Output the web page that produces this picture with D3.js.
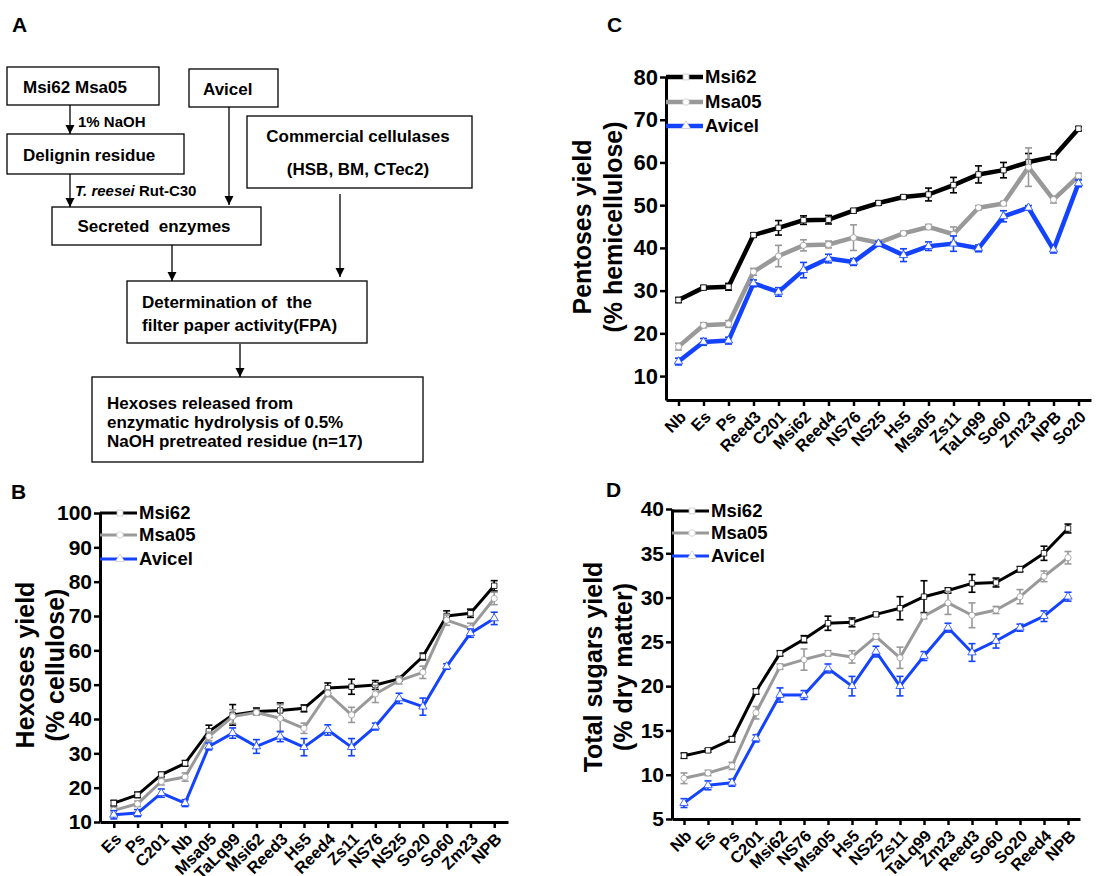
<!DOCTYPE html>
<html>
<head>
<meta charset="utf-8">
<script src="https://cdn.jsdelivr.net/npm/d3@7"></script>
<style>
  body { margin: 0; background: #fff; }
  svg { font-family: Arial, "Liberation Sans", sans-serif; font-weight: bold; }
  text { white-space: pre; }
</style>
</head>
<body>
<svg id="fig" width="1096" height="876"></svg>
<script>
const seriesNames = ["Msi62", "Msa05", "Avicel"];
const seriesColors = ["#000000", "#999999", "#1443ff"];
const seriesSymbols = [d3.symbolSquare, d3.symbolCircle, d3.symbolTriangle];

// B - hexoses yield (% cellulose)
const bCats = ["Es","Ps","C201","Nb","Msa05","TaLq99","Msi62","Reed3","Hs5","Reed4","Zs11","NS76","NS25","So20","So60","Zm23","NPB"];
const bMsi62 = [15.5,17.9,23.8,27.1,36.4,41.2,42.2,42.5,43.1,49.0,49.4,49.9,51.7,58.2,70.0,70.8,78.8];
const bMsa05 = [13.4,15.3,21.8,23.1,34.9,40.7,41.9,40.2,37.3,47.5,41.2,47.3,51.2,53.6,68.8,66.4,75.1];
const bAvicel = [12.1,12.6,18.4,15.5,32.0,35.9,32.0,34.9,31.8,36.8,31.8,37.8,46.0,43.6,55.3,65.0,69.3];
const bMsi62Err = [0.8,0.8,0.7,0.8,1.8,3.0,1.0,2.2,1.0,1.5,2.2,1.3,0.6,1.0,1.5,1.2,1.5];
const bMsa05Err = [0.8,0.8,1.0,1.2,1.3,2.0,0.8,4.0,1.5,1.0,2.2,2.5,1.0,1.8,1.5,1.5,1.8];
const bAvicelErr = [1.2,1.0,1.2,1.0,1.0,1.5,2.0,1.5,2.5,1.5,2.5,1.0,1.5,2.5,0.8,1.2,1.8];
const bTicks = [10,20,30,40,50,60,70,80,90,100];

// C - pentoses yield (% hemicellulose)
const cCats = ["Nb","Es","Ps","Reed3","C201","Msi62","Reed4","NS76","NS25","Hs5","Msa05","Zs11","TaLq99","So60","Zm23","NPB","So20"];
const cMsi62 = [27.8,30.7,30.9,43.0,44.7,46.5,46.6,48.7,50.5,51.9,52.5,54.7,57.2,58.2,60.1,61.3,67.9];
const cMsa05 = [16.9,21.9,22.2,34.4,38.1,40.6,40.8,42.4,41.2,43.4,44.9,43.2,49.4,50.4,58.9,51.3,56.8];
const cAvicel = [13.4,18.0,18.3,31.7,29.7,34.8,37.5,36.7,41.0,38.3,40.4,41.0,39.9,47.4,49.4,39.6,55.1];
const cMsi62Err = [0.6,0.5,0.8,0.5,1.7,1.0,1.0,0.5,0.5,0.5,1.5,1.8,2.0,1.8,2.0,0.7,0.5];
const cMsa05Err = [0.8,0.6,0.8,0.8,2.5,1.3,0.8,3.0,0.5,0.5,0.6,1.7,0.5,0.5,4.5,0.8,0.7];
const cAvicelErr = [0.8,0.8,0.8,0.8,1.0,1.8,1.0,0.8,0.5,1.5,1.0,1.8,0.8,1.3,0.5,0.8,0.8];
const cTicks = [10,20,30,40,50,60,70,80];

// D - total sugars yield (% dry matter)
const dCats = ["Nb","Es","Ps","C201","Msi62","NS76","Msa05","Hs5","NS25","Zs11","TaLq99","Zm23","Reed3","So60","So20","Reed4","NPB"];
const dMsi62 = [12.15,12.75,14.0,19.4,23.7,25.3,27.1,27.2,28.1,28.8,30.1,30.8,31.6,31.7,33.2,35.0,37.8];
const dMsa05 = [9.6,10.2,11.0,17.0,22.2,23.0,23.7,23.3,25.6,23.2,27.9,29.4,28.0,28.6,30.1,32.4,34.5];
const dAvicel = [6.8,8.8,9.1,14.1,19.0,19.0,22.0,20.0,23.9,20.0,23.4,26.6,23.8,25.1,26.6,27.9,30.1];
const dMsi62Err = [0.3,0.2,0.3,0.3,0.3,0.4,0.8,0.5,0.2,1.3,1.8,0.3,1.0,0.5,0.3,0.8,0.5];
const dMsa05Err = [0.6,0.3,0.4,0.7,0.3,1.2,0.3,0.7,0.3,1.2,0.3,1.3,1.4,0.4,0.8,0.6,0.7];
const dAvicelErr = [0.5,0.5,0.4,0.4,0.8,0.5,0.5,1.1,0.6,1.1,0.5,0.5,1.0,0.8,0.4,0.6,0.5];
const dTicks = [5,10,15,20,25,30,35,40];

const svg = d3.select("#fig");

// ---------- panel A : flow chart ----------
svg.append("defs").append("marker")
  .attr("id", "arrow")
  .attr("viewBox", "0 0 10 10")
  .attr("refX", 10).attr("refY", 5)
  .attr("markerWidth", 9).attr("markerHeight", 10)
  .attr("markerUnits", "userSpaceOnUse")
  .attr("orient", "auto")
  .append("path").attr("d", "M0,0 L10,5 L0,10 Z").attr("fill", "#000");

const boxes = [
  { x: 7, y: 67, w: 152, h: 38, lines: ["Msi62 Msa05"], tx: 23, ty: [87], anchor: "start" },
  { x: 189, y: 69, w: 89, h: 38, lines: ["Avicel"], tx: 203, ty: [89], anchor: "start" },
  { x: 7, y: 134, w: 177, h: 40, lines: ["Delignin residue"], tx: 23, ty: [155], anchor: "start" },
  { x: 247, y: 116, w: 225, h: 72, lines: ["Commercial cellulases", "(HSB, BM, CTec2)"], tx: 358, ty: [136, 169], anchor: "middle" },
  { x: 52, y: 207, w: 209, h: 38, lines: ["Secreted  enzymes"], tx: 154, ty: [226], anchor: "middle" },
  { x: 127, y: 281, w: 240, h: 62, lines: ["Determination of  the", "filter paper activity(FPA)"], tx: 142, ty: [302, 325], anchor: "start" },
  { x: 92, y: 377, w: 331, h: 85, lines: ["Hexoses released from", "enzymatic hydrolysis of 0.5%", "NaOH pretreated residue (n=17)"], tx: 107, ty: [403, 422, 441], anchor: "start" }
];

const gA = svg.append("g");
boxes.forEach(b => {
  gA.append("rect")
    .attr("x", b.x).attr("y", b.y).attr("width", b.w).attr("height", b.h)
    .attr("fill", "none").attr("stroke", "#000").attr("stroke-width", 1.3);
  b.lines.forEach((t, i) => {
    gA.append("text")
      .attr("x", b.tx).attr("y", b.ty[i]).attr("dy", "0.35em")
      .attr("text-anchor", b.anchor)
      .attr("font-size", 17)
      .text(t);
  });
});

const arrows = [
  [70, 105, 70, 134],
  [70, 174, 70, 207],
  [229, 107, 229, 205],
  [340, 194, 340, 277],
  [172, 245, 172, 281],
  [240, 344, 240, 377]
];
arrows.forEach(a => {
  gA.append("line")
    .attr("x1", a[0]).attr("y1", a[1]).attr("x2", a[2]).attr("y2", a[3])
    .attr("stroke", "#000").attr("stroke-width", 1.3)
    .attr("marker-end", "url(#arrow)");
});

gA.append("text").attr("x", 78).attr("y", 122).attr("dy", "0.35em")
  .attr("font-size", 15).text("1% NaOH");
const rut = gA.append("text").attr("x", 75).attr("y", 191).attr("dy", "0.35em").attr("font-size", 15);
rut.append("tspan").attr("font-style", "italic").text("T. reesei");
rut.append("tspan").text(" Rut-C30");

// panel letters
[["A", 12, 32], ["B", 11, 499], ["C", 607, 32], ["D", 606, 497]].forEach(l => {
  svg.append("text").attr("x", l[1]).attr("y", l[2]).attr("font-size", 21).text(l[0]);
});

// ---------- line panels ----------
function drawPanel(o) {
  const g = svg.append("g");
  const x = d3.scalePoint().domain(o.cats).range(o.xRange).padding(o.pad);
  const y = d3.scaleLinear().domain(o.yDomain).range(o.yRange);
  const axisY0 = o.yRange[0];

  // axes
  const xa = g.append("g")
    .attr("transform", "translate(0," + axisY0 + ")")
    .call(d3.axisBottom(x).tickSizeInner(6).tickSizeOuter(0));
  xa.select(".domain").attr("stroke-width", 3);
  xa.selectAll(".tick line").attr("stroke-width", 2.5);
  xa.selectAll(".tick text")
    .attr("x", 0).attr("y", 0).attr("dy", "0.35em")
    .attr("text-anchor", "end")
    .attr("transform", "translate(4,14) rotate(-45)")
    .attr("font-size", 16.5).attr("font-weight", "bold")
    .attr("font-family", "Arial, 'Liberation Sans', sans-serif")
    .attr("fill", "#000");

  const ya = g.append("g")
    .attr("transform", "translate(" + o.xRange[0] + ",0)")
    .call(d3.axisLeft(y).tickValues(o.ticks).tickSizeInner(6).tickSizeOuter(0));
  ya.select(".domain").attr("stroke-width", 3);
  ya.selectAll(".tick line").attr("stroke-width", 2.5);
  ya.selectAll(".tick text")
    .attr("x", -8)
    .attr("font-size", o.tickFont).attr("font-weight", "bold")
    .attr("font-family", "Arial, 'Liberation Sans', sans-serif")
    .attr("fill", "#000");

  // y title
  o.title.forEach((t, i) => {
    g.append("text")
      .attr("transform", "translate(" + o.titleX[i] + "," + o.titleY + ") rotate(-90)")
      .attr("text-anchor", "middle").attr("dy", "0.35em")
      .attr("font-size", 25)
      .text(t);
  });

  // series
  o.vals.forEach((vals, s) => {
    const col = seriesColors[s];
    const pts = vals.map((v, i) => ({ c: o.cats[i], v: v, e: o.errs[s][i] }));
    g.append("path").datum(pts)
      .attr("fill", "none").attr("stroke", col).attr("stroke-width", o.lw)
      .attr("stroke-linejoin", "round")
      .attr("d", d3.line().x(d => x(d.c)).y(d => y(d.v)));
    const eb = g.append("g").attr("stroke", col).attr("stroke-width", 1.6);
    pts.forEach(d => {
      const cx = x(d.c);
      eb.append("line").attr("x1", cx).attr("x2", cx).attr("y1", y(d.v - d.e)).attr("y2", y(d.v + d.e));
      eb.append("line").attr("x1", cx - 3.5).attr("x2", cx + 3.5).attr("y1", y(d.v - d.e)).attr("y2", y(d.v - d.e));
      eb.append("line").attr("x1", cx - 3.5).attr("x2", cx + 3.5).attr("y1", y(d.v + d.e)).attr("y2", y(d.v + d.e));
    });
    g.append("g").selectAll("path").data(pts).enter().append("path")
      .attr("transform", d => "translate(" + x(d.c) + "," + y(d.v) + ")")
      .attr("d", d3.symbol().type(seriesSymbols[s]).size(30))
      .attr("fill", "#fff").attr("stroke", col).attr("stroke-width", 0.8);
  });

  // legend
  seriesNames.forEach((n, s) => {
    const ly = o.legendY[s];
    const lx = o.xRange[0];
    g.append("line").attr("x1", lx).attr("x2", lx + 37).attr("y1", ly).attr("y2", ly)
      .attr("stroke", seriesColors[s]).attr("stroke-width", o.lw);
    g.append("path").attr("transform", "translate(" + (lx + 20) + "," + ly + ")")
      .attr("d", d3.symbol().type(seriesSymbols[s]).size(34))
      .attr("fill", "#fff").attr("stroke", "#ccc").attr("stroke-width", 0.8);
    g.append("text").attr("x", lx + 39).attr("y", ly).attr("dy", "0.35em")
      .attr("font-size", 18.5).text(n);
  });
}

drawPanel({
  cats: bCats, vals: [bMsi62, bMsa05, bAvicel], errs: [bMsi62Err, bMsa05Err, bAvicelErr],
  xRange: [100, 508], pad: 0.58, yDomain: [10, 100], yRange: [822, 513], ticks: bTicks,
  tickFont: 21, lw: 3, title: ["Hexoses yield", "(% cellulose)"], titleX: [25, 55], titleY: 665,
  legendY: [513, 535, 559]
});

drawPanel({
  cats: cCats, vals: [cMsi62, cMsa05, cAvicel], errs: [cMsi62Err, cMsa05Err, cAvicelErr],
  xRange: [666, 1091], pad: 0.5, yDomain: [4.4, 80], yRange: [400, 77], ticks: cTicks,
  tickFont: 22, lw: 4.5, title: ["Pentoses yield", "(% hemicellulose)"], titleX: [582, 613], titleY: 227,
  legendY: [77, 102, 126]
});

drawPanel({
  cats: dCats, vals: [dMsi62, dMsa05, dAvicel], errs: [dMsi62Err, dMsa05Err, dAvicelErr],
  xRange: [672, 1080], pad: 0.5, yDomain: [5, 40], yRange: [819, 509], ticks: dTicks,
  tickFont: 21, lw: 3, title: ["Total sugars yield", "(% dry matter)"], titleX: [593, 623], titleY: 667,
  legendY: [511, 533, 556]
});
</script>
</body>
</html>
